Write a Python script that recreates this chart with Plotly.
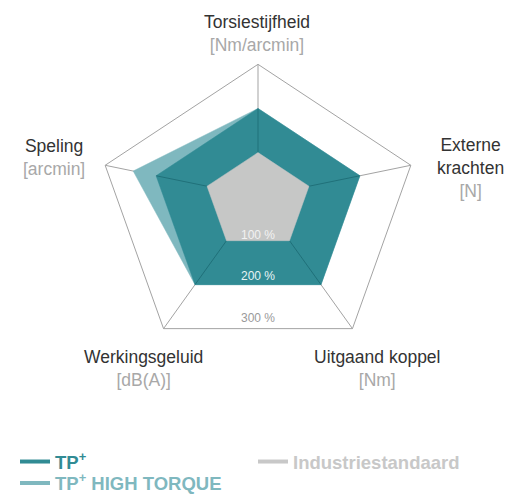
import numpy as np
import plotly.graph_objects as go

# ---------------- data ----------------
axes_names = ["Torsiestijfheid", "Externe<br>krachten", "Uitgaand koppel", "Werkingsgeluid", "Speling"]
axes_units = ["[Nm/arcmin]", "[N]", "[Nm]", "[dB(A)]", "[arcmin]"]
tp_plus = [200, 200, 200, 200, 200]
tp_plus_high_torque = [200, 200, 200, 200, 245]
industriestandaard = [100, 100, 100, 100, 100]
grid_levels = [100, 200, 300]
grid_labels = ["100 %", "200 %", "300 %"]
r_max = 300

# ---------------- styling ----------------
C_TP = "#318B94"
C_HT = "#7FB8BF"
C_IND = "#C6C7C6"
C_GRID = "#A3A3A3"
FONT = "Liberation Sans"

# page body has an 8px default margin -> figure is 8px smaller than the window
W, H = 504, 486
OFF = 8
APEX_X, APEX_Y = 258 - OFF, 196.7 - OFF
PX_Y = 0.487          # px per unit vertically
PX_X = PX_Y * 1.1     # px per unit horizontally

# oblique (pyramid-like) projection used by the original graphic
TILT = 0.094
n = len(axes_names)
theta = np.arange(n) * 2 * np.pi / n  # clockwise from the top


def project(values):
    r = np.asarray(values, dtype=float)
    x = r * np.sin(theta)
    y = r * (np.cos(theta) - TILT)
    return x, y


def closed(values):
    x, y = project(values)
    return np.append(x, x[0]), np.append(y, y[0])


fig = go.Figure()

# outer grid ring
ox, oy = closed([r_max] * n)
fig.add_trace(go.Scatter(x=ox, y=oy, mode="lines", line=dict(color=C_GRID, width=1),
                         showlegend=False, hoverinfo="skip"))

# spokes (behind the fills)
sx, sy = [], []
px0, py0 = project([0] * n)
px1, py1 = project([r_max] * n)
for i in range(n):
    sx += [px0[i], px1[i], None]
    sy += [py0[i], py1[i], None]
fig.add_trace(go.Scatter(x=sx, y=sy, mode="lines", line=dict(color=C_GRID, width=1),
                         showlegend=False, hoverinfo="skip"))

# TP+ HIGH TORQUE
hx, hy = closed(tp_plus_high_torque)
fig.add_trace(go.Scatter(x=hx, y=hy, mode="lines", fill="toself", fillcolor=C_HT,
                         line=dict(color=C_HT, width=0.5), showlegend=False, hoverinfo="skip"))

# TP+
tx, ty = closed(tp_plus)
fig.add_trace(go.Scatter(x=tx, y=ty, mode="lines", fill="toself", fillcolor=C_TP,
                         line=dict(color=C_TP, width=0.5), showlegend=False, hoverinfo="skip"))

# inner spokes drawn over the teal area
ix, iy = [], []
ax0, ay0 = project(industriestandaard)
ax1, ay1 = project(tp_plus)
for i in range(n):
    ix += [ax0[i], ax1[i], None]
    iy += [ay0[i], ay1[i], None]
fig.add_trace(go.Scatter(x=ix, y=iy, mode="lines", line=dict(color="rgba(10,80,88,0.45)", width=1),
                         showlegend=False, hoverinfo="skip"))

# Industriestandaard
gx, gy = closed(industriestandaard)
fig.add_trace(go.Scatter(x=gx, y=gy, mode="lines", fill="toself", fillcolor=C_IND,
                         line=dict(color=C_IND, width=0.5), showlegend=False, hoverinfo="skip"))

# legend entries
legend_entries = [
    ('<span style="color:%s"><b>TP<sup>+</sup></b></span>' % C_TP, C_TP, "legend"),
    ('<span style="color:%s"><b>Industriestandaard</b></span>' % "#C8C8C8", "#C8C8C8", "legend"),
    ('<span style="color:%s"><b>TP<sup>+</sup> HIGH TORQUE</b></span>' % C_HT, C_HT, "legend2"),
]
for name, col, lg in legend_entries:
    fig.add_trace(go.Scatter(x=[None], y=[None], mode="lines", name=name, legend=lg,
                             line=dict(color=col, width=4)))

# axis labels
shifts = [(-1, 31), (60, -3), (25, -40), (-20, -40), (-51, 8)]
vx, vy = project([r_max] * n)
for i in range(n):
    fig.add_annotation(
        x=vx[i], y=vy[i], xref="x", yref="y",
        text='%s<br><span style="color:#A8A8A8">%s</span>' % (axes_names[i], axes_units[i]),
        showarrow=False, xanchor="center", yanchor="middle", align="center",
        xshift=shifts[i][0], yshift=shifts[i][1],
        font=dict(family=FONT, size=17.5, color="#333333"),
    )

# grid level labels at the bottom edge
label_colors = ["#F2F2F2", "#E6F4F5", "#9A9A9A"]
label_shift = [6, 8.5, 11]
cos36 = np.cos(np.pi / 5)
for lvl, lab, col, ys in zip(grid_levels, grid_labels, label_colors, label_shift):
    fig.add_annotation(
        x=0, y=lvl * (-cos36 - TILT), xref="x", yref="y", text=lab, showarrow=False,
        xanchor="center", yanchor="middle", yshift=ys,
        font=dict(family=FONT, size=12, color=col),
    )

legend_common = dict(orientation="h", xanchor="left", yanchor="middle",
                     entrywidth=193, entrywidthmode="pixels", tracegroupgap=0,
                     font=dict(family=FONT, size=18.5, color="#333"), bgcolor="rgba(0,0,0,0)")

fig.update_layout(
    width=W, height=H,
    margin=dict(l=0, r=0, t=0, b=0, autoexpand=False),
    paper_bgcolor="white", plot_bgcolor="white",
    xaxis=dict(range=[-APEX_X / PX_X, (W - APEX_X) / PX_X], visible=False, fixedrange=True),
    yaxis=dict(range=[-(H - APEX_Y) / PX_Y, APEX_Y / PX_Y], visible=False, fixedrange=True),
    showlegend=True,
    legend=dict(x=7 / W, y=(H - (462 - OFF)) / H, **legend_common),
    legend2=dict(x=7 / W, y=(H - (483.5 - OFF)) / H, **legend_common),
    hovermode=False,
)

fig.write_html("out.html")
